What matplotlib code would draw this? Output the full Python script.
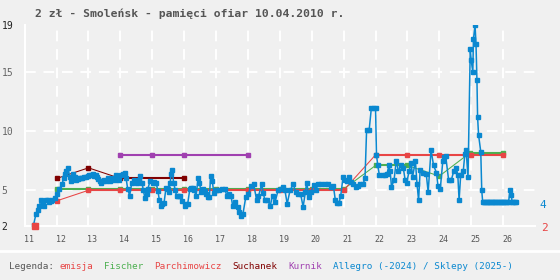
import matplotlib
matplotlib.use('Agg')
import matplotlib.pyplot as plt
from matplotlib.lines import Line2D
from matplotlib.transforms import ScaledTranslation

# ---------------- data ----------------
title = "2 zł - Smoleńsk - pamięci ofiar 10.04.2010 r."
year_ticks = list(range(11, 27))
year_labels = [str(y) for y in year_ticks]
y_ticks = [2, 5, 10, 15, 19]

emisja_x = [11.32]
emisja_y = [2.0]

fischer_x = [12, 13, 14, 15, 16, 17, 18, 19, 20, 21, 22, 23, 24, 24.95, 26]
fischer_y = [5.1, 5.1, 5.1, 5.1, 5.1, 5.1, 5.1, 5.1, 5.1, 5.1, 7.1, 7.1, 6.2, 8.15, 8.15]

parch_x = [12, 13, 14, 15, 16, 17, 18, 19, 20, 21, 22, 23, 24, 25, 26]
parch_y = [4.1, 5.0, 5.0, 5.0, 5.0, 5.0, 5.0, 5.0, 5.0, 5.0, 8.0, 8.0, 8.0, 8.0, 8.0]

suchanek_x = [12, 13, 14, 16]
suchanek_y = [6.0, 6.9, 6.0, 6.0]

kurnik_x = [14, 15, 16, 18]
kurnik_y = [8.0, 8.0, 8.0, 8.0]

allegro_x = [
    11.28, 11.35, 11.41, 11.46, 11.52, 11.57, 11.61, 11.67, 11.72, 11.77, 11.82, 11.87, 11.96,
    12.02, 12.09, 12.17, 12.22, 12.27, 12.31, 12.36, 12.41, 12.46, 12.52, 12.57, 12.61, 12.66,
    12.71, 12.76, 12.81, 12.86, 12.92, 12.97, 13.03, 13.08, 13.14, 13.18, 13.23, 13.27, 13.31,
    13.35, 13.39, 13.45, 13.50, 13.55, 13.60, 13.64, 13.68, 13.72, 13.77, 13.82, 13.87, 13.91,
    13.95, 14.02, 14.08, 14.13, 14.18, 14.23, 14.29, 14.36, 14.44, 14.48, 14.53, 14.58, 14.62,
    14.68, 14.72, 14.77, 14.82, 14.86, 14.93, 15.01, 15.06, 15.12, 15.18, 15.22, 15.27, 15.32,
    15.37, 15.43, 15.48, 15.52, 15.56, 15.59, 15.62, 15.67, 15.72, 15.76, 15.81, 15.86, 15.93,
    16.02, 16.07, 16.11, 16.18, 16.22, 16.27, 16.32, 16.37, 16.44, 16.48, 16.53, 16.60, 16.64,
    16.68, 16.74, 16.79, 16.83, 16.88, 16.93, 17.00, 17.08, 17.18, 17.28, 17.33, 17.41, 17.47,
    17.52, 17.60, 17.68, 17.73, 17.78, 17.84, 17.93, 18.01, 18.10, 18.18, 18.27, 18.33, 18.43,
    18.48, 18.53, 18.61, 18.70, 18.77, 18.85, 18.95, 19.05, 19.10, 19.16, 19.23, 19.32, 19.42,
    19.50, 19.58, 19.65, 19.73, 19.80, 19.84, 19.92, 19.98, 20.06, 20.13, 20.20, 20.30, 20.40,
    20.50, 20.60, 20.68, 20.74, 20.80, 20.86, 20.91, 20.98, 21.05, 21.12, 21.17, 21.24, 21.30,
    21.38, 21.45, 21.52, 21.61, 21.67, 21.72, 21.80, 21.87, 21.94, 22.00, 22.03, 22.07, 22.12,
    22.22, 22.30, 22.36, 22.42, 22.46, 22.50, 22.58, 22.65, 22.72, 22.80, 22.87, 22.93, 22.98,
    23.05, 23.12, 23.16, 23.25, 23.30, 23.35, 23.40, 23.50, 23.59, 23.65, 23.74, 23.82, 23.91,
    23.96, 24.03, 24.11, 24.15, 24.20, 24.29, 24.38, 24.45, 24.53, 24.58, 24.62, 24.67, 24.75,
    24.80, 24.84, 24.90, 24.97, 25.00, 25.05, 25.07, 25.12, 25.15, 25.18, 25.20, 25.23, 25.30,
    25.33, 25.36, 25.40, 25.44, 25.48, 25.52, 25.56, 25.60, 25.64, 25.68, 25.72, 25.76, 25.80,
    25.84, 25.88, 25.92, 25.96, 26.00, 26.04, 26.08, 26.12, 26.17, 26.22, 26.26, 26.28, 26.32,
    26.36, 26.39]
allegro_y = [
    2.1, 2.95, 3.35, 3.7, 4.2, 4.0, 3.7, 4.2, 4.2, 4.0, 4.1, 4.2, 4.35,
    4.7, 5.15, 5.5, 6.0, 6.35, 6.6, 6.9, 6.1, 5.8, 6.35, 6.1, 5.85, 5.95,
    6.0, 6.05, 6.05, 6.1, 6.1, 6.2, 6.3, 6.3, 6.35, 6.25, 6.3, 6.1, 5.95,
    5.8, 5.65, 5.75, 5.85, 5.8, 6.0, 5.9, 5.75, 5.9, 6.0, 5.85, 6.3, 6.1,
    5.9, 6.3, 6.4, 6.5, 6.0, 5.1, 4.55, 5.65, 5.85, 5.8, 5.6, 5.9, 6.2,
    5.6, 5.0, 4.35, 4.7, 5.1, 5.8, 5.6, 5.7, 5.65, 4.9, 4.2, 3.7, 3.8,
    3.95, 5.2, 5.1, 4.85, 5.6, 6.35, 6.75, 5.65, 5.0, 4.55, 4.55, 4.5, 4.1,
    3.65, 3.8, 3.85, 5.15, 5.2, 5.2, 5.0, 4.55, 6.0, 5.65, 4.85, 5.1, 4.9,
    4.7, 4.4, 4.4, 6.2, 5.8, 4.8, 5.0, 5.0, 5.1, 5.15, 4.55, 4.7, 4.5,
    3.7, 4.0, 3.6, 3.2, 2.8, 2.95, 4.4, 4.7, 5.35, 5.5, 4.2, 4.5, 5.5,
    4.8, 4.15, 4.15, 3.7, 4.55, 4.0, 5.05, 5.1, 5.25, 5.0, 3.85, 5.0, 5.5,
    4.85, 4.7, 4.7, 3.6, 4.85, 5.65, 4.4, 4.85, 5.45, 5.0, 5.55, 5.55, 5.55,
    5.55, 5.3, 5.35, 4.15, 3.95, 3.95, 4.55, 6.1, 5.85, 5.8, 6.1, 5.7, 5.55,
    5.25, 5.4, 5.55, 5.55, 6.0, 10.1, 10.1, 12.0, 12.0, 12.0, 8.0, 7.1, 6.3,
    6.3, 6.3, 6.4, 7.1, 6.6, 5.3, 5.85, 7.5, 6.6, 7.1, 6.9, 5.85, 5.65,
    6.6, 7.3, 6.1, 7.5, 5.55, 4.15, 6.75, 6.45, 6.4, 4.85, 8.4, 7.1, 6.5,
    5.35, 5.1, 7.5, 7.8, 7.9, 5.9, 5.9, 6.6, 6.9, 6.3, 4.15, 6.3, 6.6,
    8.05, 8.4, 6.1, 17.0, 16.0, 15.0, 17.8, 19.0, 17.4, 14.3, 11.2, 9.7, 8.25,
    5.0, 4.0, 4.0, 4.0, 4.0, 4.0, 4.0, 4.0, 4.0, 4.0, 4.0, 4.0, 4.0,
    4.0, 4.0, 4.0, 4.0, 4.0, 4.0, 4.0, 4.0, 4.0, 5.05, 4.6, 4.0, 4.0,
    4.0, 4.0]

last_allegro_label = "4"
last_emisja_label = "2"

legend_items = [("Legenda:", "#555555"), ("emisja", "#e84545"), ("Fischer", "#4caf50"),
                ("Parchimowicz", "#e84545"), ("Suchanek", "#800000"), ("Kurnik", "#a040b0"),
                ("Allegro (-2024) / Sklepy (2025-)", "#0a88d0")]

# ---------------- style ----------------
BG = '#f0f0f0'
RED = '#e84545'
GREEN = '#4caf50'
DARKRED = '#800000'
PURPLE = '#a040b0'
BLUE = '#0a88d0'
MONO = 'DejaVu Sans Mono'

fig = plt.figure(figsize=(5.6, 2.8), dpi=100, facecolor=BG)
ax = fig.add_axes([24.7 / 560, (280 - 225.7) / 280, 510.3 / 560, 200.7 / 280])
ax.set_facecolor(BG)
ax.set_xlim(11, 27)
ax.set_ylim(2, 19)
for s in ax.spines.values():
    s.set_visible(False)

# grid
dash = (0, (5.5, 4.0))
for y in [5, 10, 15]:
    ax.axhline(y, color='white', lw=1.4, ls=dash, zorder=0)
for x in year_ticks[1:]:
    ax.axvline(x, color='white', lw=1.4, ls=dash, zorder=0)
ax.axhline(2, color='white', lw=1.5, zorder=0.5, clip_on=False)
ax.axvline(11, color='white', lw=1.5, zorder=0.5, clip_on=False)


def seg_plot(xs, ys, color, z):
    for i in range(len(xs) - 1):
        same = abs(ys[i] - ys[i + 1]) < 1e-9
        ax.plot(xs[i:i + 2], ys[i:i + 2], color=color, lw=1.5 if same else 0.75,
                solid_capstyle='butt', zorder=z)
    ax.plot(xs, ys, ls='none', marker='s', ms=3.0, color=color, mec=color, zorder=z)


seg_plot(fischer_x, fischer_y, GREEN, 2)
seg_plot(parch_x, parch_y, RED, 2.1)
seg_plot(suchanek_x, suchanek_y, DARKRED, 2.2)
seg_plot(kurnik_x, kurnik_y, PURPLE, 2.3)

ax.plot(allegro_x, allegro_y, color=BLUE, lw=1.1, marker='s', ms=2.4, mec=BLUE, zorder=3)
ax.plot(emisja_x, emisja_y, ls='none', marker='s', ms=4.0, color=RED, mec=RED, zorder=4,
        clip_on=False)

# ticks
ax.set_xticks(year_ticks)
ax.set_xticklabels(year_labels, fontsize=6, family=MONO, color='#555555')
ax.tick_params(axis='x', length=0, pad=6.5)
off = ScaledTranslation(4 / 100, 0, fig.dpi_scale_trans)
for lbl in ax.get_xticklabels():
    lbl.set_transform(lbl.get_transform() + off)

ax.set_yticks(y_ticks)
ax.set_yticklabels([str(v) for v in y_ticks], fontsize=7, family=MONO)
ax.tick_params(axis='y', length=0, pad=16.5)
for lbl, v in zip(ax.get_yticklabels(), y_ticks):
    lbl.set_ha('left')
    lbl.set_color('#222222' if v in (2, 19) else '#666666')

# title
fig.text(35 / 560, 1 - 14 / 280, title, fontsize=8.2, fontweight='bold', family=MONO,
         color='#555555', ha='left', va='center')

# right-hand last-value labels
fig.text(543 / 560, 1 - 205 / 280, last_allegro_label, fontsize=8, family=MONO,
         color=BLUE, ha='center', va='center')
fig.text(544 / 560, 1 - 228 / 280, last_emisja_label, fontsize=8, family=MONO,
         color=RED, ha='center', va='center')

# separator
fig.add_artist(Line2D([0, 1], [1 - 251 / 280] * 2, color='white', lw=2,
                      transform=fig.transFigure))

# legend text (monospace, 5.58 px per char)
cw = 5.58
x0 = 9
pos = 0
for i, (txt, col) in enumerate(legend_items):
    fig.text((x0 + pos * cw) / 560, 1 - 266.5 / 280, txt, fontsize=6.7, family=MONO,
             color=col, ha='left', va='center')
    pos += len(txt) + (1 if i == 0 else 2)

fig.savefig('out.png', dpi=100, facecolor=BG)
